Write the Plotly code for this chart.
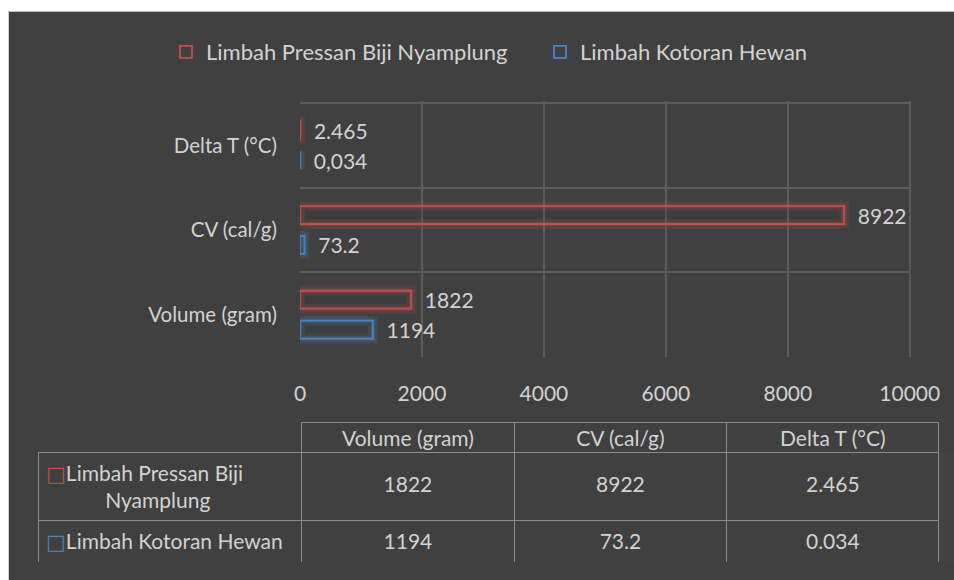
import plotly.graph_objects as go

# ---- data ----
categories = ["Volume (gram)", "CV (cal/g)", "Delta T (°C)"]
series_names = ["Limbah Pressan Biji Nyamplung", "Limbah Kotoran Hewan"]
red_values = [1822, 8922, 2.465]
blue_values = [1194, 73.2, 0.034]
red_labels = ["1822", "8922", "2.465"]
blue_labels = ["1194", "73.2", "0,034"]
table_header = ["", "Volume (gram)", "CV (cal/g)", "Delta T (°C)"]
table_red_row = ["1822", "8922", "2.465"]
table_blue_row = ["1194", "73.2", "0.034"]
x_ticks = [0, 2000, 4000, 6000, 8000, 10000]

# ---- styles ----
RED = "#C0504D"
BLUE = "#4F81BD"
BG = "#404040"
TXT = "#D2D2D2"
GRID = "#5C5C5C"
FONT = "Lato"
W, H = 954, 580
NB = "\u00a0"

fig = go.Figure()

def add_series(values, labels, name, color, glow1, glow2, group, rank):
    # soft glow underlay
    fig.add_trace(go.Bar(
        y=categories, x=values, orientation="h", offsetgroup=group,
        marker=dict(color="rgba(0,0,0,0.05)", line=dict(color=glow1, width=10)),
        showlegend=False, hoverinfo="skip",
    ))
    fig.add_trace(go.Bar(
        y=categories, x=values, orientation="h", offsetgroup=group,
        marker=dict(color="rgba(0,0,0,0)", line=dict(color=glow2, width=5)),
        showlegend=False, hoverinfo="skip",
    ))
    fig.add_trace(go.Bar(
        y=categories, x=values, orientation="h", name=name, offsetgroup=group,
        marker=dict(color="rgba(0,0,0,0)", line=dict(color=color, width=1.8)),
        text=labels, texttemplate=NB + NB + "%{text}", textposition="outside",
        constraintext="none", cliponaxis=False,
        textfont=dict(color=TXT, size=21, family=FONT),
        legendrank=rank,
    ))

add_series(blue_values, blue_labels, series_names[1], BLUE,
           "rgba(79,129,189,0.16)", "rgba(79,129,189,0.22)", "b", 2)
add_series(red_values, red_labels, series_names[0], RED,
           "rgba(192,80,77,0.16)", "rgba(192,80,77,0.22)", "a", 1)

# table: every cell text holds a <br> so the table's word-wrapping never splits tags
def sq(color):
    return f"<span style='color:{color};font-family:DejaVu Sans'>□</span>"

def nowrap(s):
    return s.replace(" ", NB)

def big(s):
    return "<span style='font-size:21px'>" + s + "</span>"

first_words, last_word = series_names[0].rsplit(" ", 1)
row_names = [sq(RED) + nowrap(first_words) + "<br>" + NB * 11 + last_word,
             sq(BLUE) + nowrap(series_names[1]) + "<br>"]
value_cols = [[NB + "<br>" + big(table_red_row[i]), big(table_blue_row[i]) + "<br>"] for i in range(3)]
cols = [row_names] + value_cols
LINE = "#8C8C8C"
fig.add_trace(go.Table(
    domain=dict(x=[38 / W, 940 / W], y=[1 - 562 / H, 1 - 422 / H]),
    columnwidth=[264, 212.7, 212.7, 212.6],
    header=dict(values=table_header, height=30, align="center",
                fill_color=BG,
                line=dict(color=["rgba(0,0,0,0)", LINE, LINE, LINE], width=1),
                font=dict(color=TXT, size=21, family=FONT)),
    cells=dict(values=cols, height=38, align=["left", "center", "center", "center"],
               fill_color=BG, line=dict(color=LINE, width=1),
               font=dict(color=TXT, size=[21, 14, 14, 14], family=FONT)),
))

fig.update_layout(
    width=W, height=H,
    margin=dict(l=0, r=0, t=0, b=0, autoexpand=False),
    paper_bgcolor=BG, plot_bgcolor=BG,
    barmode="group", bargap=0.294, bargroupgap=0.4,
    font=dict(family=FONT, color=TXT, size=21),
    legend=dict(orientation="h", x=166 / W, xanchor="left", y=1 - 52 / H, yanchor="middle",
                entrywidth=329, entrywidthmode="pixels",
                font=dict(size=22, color=TXT, family=FONT), bgcolor="rgba(0,0,0,0)"),
    xaxis=dict(domain=[300 / W, 911 / W], range=[0, 10020], tickvals=x_ticks,
               ticktext=[str(v) for v in x_ticks],
               showgrid=False, zeroline=False, showline=False,
               minor=dict(tickvals=x_ticks[1:], showgrid=True, gridcolor=GRID, gridwidth=1.5),
               tickfont=dict(size=21, color=TXT, family=FONT), ticklabelstandoff=22,
               fixedrange=True),
    yaxis=dict(domain=[1 - 357 / H, 1 - 101.3 / H], range=[-0.5, 2.52],
               categoryorder="array", categoryarray=categories,
               showgrid=False, zeroline=False, showline=False,
               minor=dict(tickvals=[0.5, 1.5, 2.5], showgrid=True, gridcolor=GRID, gridwidth=1.5),
               tickfont=dict(size=20.5, color=TXT, family=FONT), ticklabelstandoff=22,
               fixedrange=True),
    shapes=[
        dict(type="rect", xref="paper", yref="paper", x0=0, x1=1, y0=1 - 11 / H, y1=1,
             fillcolor="white", line=dict(width=0), layer="below"),
        dict(type="rect", xref="paper", yref="paper", x0=0, x1=8 / W, y0=0, y1=1,
             fillcolor="white", line=dict(width=0), layer="below"),
        dict(type="line", xref="paper", yref="paper", x0=8.5 / W, x1=1, y0=1 - 11.5 / H, y1=1 - 11.5 / H,
             line=dict(color="#BDBDBD", width=1), layer="below"),
        dict(type="line", xref="paper", yref="paper", x0=8.5 / W, x1=8.5 / W, y0=0, y1=1 - 11.5 / H,
             line=dict(color="#D0D0D0", width=1), layer="below"),
    ],
)

fig.write_html("out.html")
